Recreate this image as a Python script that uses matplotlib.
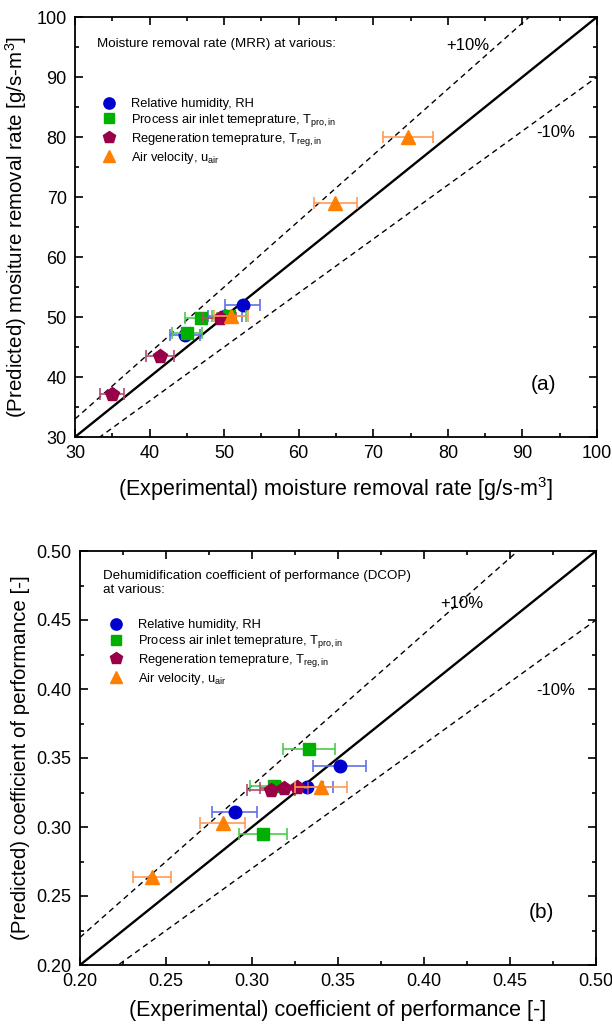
import matplotlib
matplotlib.use('Agg')
import matplotlib.pyplot as plt
from matplotlib.lines import Line2D
from matplotlib.ticker import MultipleLocator, FormatStrFormatter
import numpy as np

plt.rcParams['font.family'] = ['Liberation Sans', 'DejaVu Sans']
plt.rcParams['mathtext.fontset'] = 'custom'
plt.rcParams['mathtext.rm'] = 'Liberation Sans'
plt.rcParams['mathtext.it'] = 'Liberation Sans:italic'

# ---- MRR panel (a) ----
mrr_rh_exp = [52.5, 50.1, 44.8]
mrr_rh_pred = [52.0, 50.2, 47.0]
mrr_rh_err = [2.35, 2.25, 2.0]

mrr_tpro_exp = [46.9, 50.65, 45.0]
mrr_tpro_pred = [49.9, 50.2, 47.3]
mrr_tpro_err = [2.1, 2.25, 2.0]

mrr_treg_exp = [49.4, 41.4, 35.0]
mrr_treg_pred = [49.9, 43.55, 37.2]
mrr_treg_err = [2.2, 1.85, 1.6]

mrr_uair_exp = [74.6, 64.9, 50.9]
mrr_uair_pred = [80.0, 69.0, 50.2]
mrr_uair_err = [3.35, 2.9, 2.3]

# ---- DCOP panel (b) ----
dcop_rh_exp = [0.351, 0.332, 0.290]
dcop_rh_pred = [0.344, 0.329, 0.311]
dcop_rh_err = [0.0155, 0.015, 0.013]

dcop_tpro_exp = [0.333, 0.313, 0.3066]
dcop_tpro_pred = [0.3565, 0.330, 0.295]
dcop_tpro_err = [0.015, 0.014, 0.014]

dcop_treg_exp = [0.311, 0.3186, 0.326]
dcop_treg_pred = [0.327, 0.328, 0.329]
dcop_treg_err = [0.014, 0.014, 0.015]

dcop_uair_exp = [0.340, 0.283, 0.2417]
dcop_uair_pred = [0.329, 0.303, 0.264]
dcop_uair_err = [0.015, 0.013, 0.011]

labels = ['Relative humidity, RH',
          r'Process air inlet temeprature, T$_\mathregular{pro,in}$',
          r'Regeneration temeprature, T$_\mathregular{reg,in}$',
          r'Air velocity, u$_\mathregular{air}$']
colors = ['#0000cc', '#00b000', '#990047', '#ff7f00']
err_colors = ['#6070e8', '#50c850', '#b04a70', '#ff9955']
markers = ['o', 's', 'p', '^']
msizes = [9, 8, 10, 9.5]


def style_axes(ax, lim, major, minor):
    ax.set_xlim(lim)
    ax.set_ylim(lim)
    ax.xaxis.set_major_locator(MultipleLocator(major))
    ax.yaxis.set_major_locator(MultipleLocator(major))
    ax.xaxis.set_minor_locator(MultipleLocator(minor))
    ax.yaxis.set_minor_locator(MultipleLocator(minor))
    ax.tick_params(which='both', direction='in', top=True, right=True, width=1.2)
    ax.tick_params(which='major', length=6, labelsize=13, pad=6)
    ax.tick_params(which='minor', length=3)
    for sp in ax.spines.values():
        sp.set_linewidth(1.3)


def draw_panel(ax, series, lim):
    xs = np.array(lim)
    ax.plot(xs, xs, color='black', lw=1.7, zorder=2)
    ax.plot(xs, 1.1 * xs, color='black', lw=1.0, ls=(0, (4, 3)), zorder=2)
    ax.plot(xs, 0.9 * xs, color='black', lw=1.0, ls=(0, (4, 3)), zorder=2)
    for i, (x, y, e) in enumerate(series):
        ax.errorbar(x, y, xerr=e, fmt=markers[i], color=colors[i], ms=msizes[i],
                    ecolor=err_colors[i], elinewidth=1.2, capsize=4, capthick=1.2,
                    mec=colors[i], zorder=3 + i)


def add_legend(ax, title, title_xy, anchor):
    handles = [Line2D([], [], ls='none', marker=markers[i], color=colors[i],
                      ms=msizes[i] * 0.9) for i in range(4)]
    ax.legend(handles, labels, loc='upper left', bbox_to_anchor=anchor,
              frameon=False, fontsize=9.3, handletextpad=1.1, handlelength=1.2,
              labelspacing=0.14, borderaxespad=0, borderpad=0)
    ax.text(title_xy[0], title_xy[1], title, transform=ax.transAxes, fontsize=9.6,
            va='center', ha='left', linespacing=1.25)


fig = plt.figure(figsize=(6.12, 10.29), dpi=100)

# panel (a)
ax1 = fig.add_axes([75 / 612, 1 - 437 / 1029, 522 / 612, 420 / 1029])
style_axes(ax1, (30, 100), 10, 5)
draw_panel(ax1, [(mrr_rh_exp, mrr_rh_pred, mrr_rh_err),
                 (mrr_tpro_exp, mrr_tpro_pred, mrr_tpro_err),
                 (mrr_treg_exp, mrr_treg_pred, mrr_treg_err),
                 (mrr_uair_exp, mrr_uair_pred, mrr_uair_err)], (30, 100))
add_legend(ax1, 'Moisture removal rate (MRR) at various:', (22 / 522, 0.936), (0.05, 0.807))
ax1.text(82.7, 95.2, '+10%', fontsize=12, ha='center', va='center')
ax1.text(94.5, 80.7, '-10%', fontsize=12, ha='center', va='center')
ax1.text(92.8, 38.8, '(a)', fontsize=15, ha='center', va='center')
ax1.set_xlabel(r'(Experimental) moisture removal rate [g/s-m$^3$]', fontsize=15.5, labelpad=9)
ax1.set_ylabel(r'(Predicted) mositure removal rate [g/s-m$^3$]', fontsize=14.8, labelpad=5)

# panel (b)
ax2 = fig.add_axes([80 / 612, 64 / 1029, 516 / 612, 414 / 1029])
style_axes(ax2, (0.20, 0.50), 0.05, 0.025)
ax2.xaxis.set_major_formatter(FormatStrFormatter('%.2f'))
ax2.yaxis.set_major_formatter(FormatStrFormatter('%.2f'))
draw_panel(ax2, [(dcop_rh_exp, dcop_rh_pred, dcop_rh_err),
                 (dcop_tpro_exp, dcop_tpro_pred, dcop_tpro_err),
                 (dcop_treg_exp, dcop_treg_pred, dcop_treg_err),
                 (dcop_uair_exp, dcop_uair_pred, dcop_uair_err)], (0.20, 0.50))
add_legend(ax2, 'Dehumidification coefficient of performance (DCOP)\nat various:',
           (23 / 516, 0.922), (0.055, 0.835))
ax2.text(0.422, 0.462, '+10%', fontsize=12, ha='center', va='center')
ax2.text(0.4767, 0.399, '-10%', fontsize=12, ha='center', va='center')
ax2.text(0.468, 0.2377, '(b)', fontsize=15, ha='center', va='center')
ax2.set_xlabel('(Experimental) coefficient of performance [-]', fontsize=15.5, labelpad=7)
ax2.set_ylabel('(Predicted) coefficient of performance [-]', fontsize=14.8, labelpad=5)

fig.savefig('out.png', dpi=100)
